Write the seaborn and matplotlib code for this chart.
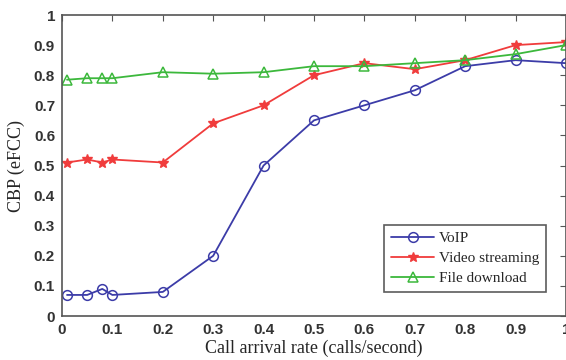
import numpy as np
import pandas as pd
import matplotlib
matplotlib.use('Agg')
import matplotlib.pyplot as plt
import seaborn as sns

# call arrival rate (calls/second)
rate = [0.01, 0.05, 0.08, 0.1, 0.2, 0.3, 0.4, 0.5, 0.6, 0.7, 0.8, 0.9, 1.0]
voip = [0.07, 0.07, 0.09, 0.07, 0.08, 0.20, 0.50, 0.65, 0.70, 0.75, 0.83, 0.85, 0.84]
video = [0.51, 0.52, 0.51, 0.52, 0.51, 0.64, 0.70, 0.80, 0.84, 0.82, 0.85, 0.90, 0.91]
download = [0.785, 0.79, 0.79, 0.79, 0.81, 0.805, 0.81, 0.83, 0.83, 0.84, 0.85, 0.87, 0.90]

names = ['VoIP', 'Video streaming', 'File download']
colors = ['#3c3ca8', '#f03c3c', '#3cb83c']

frames = []
for n, vals in zip(names, [voip, video, download]):
    frames.append(pd.DataFrame({'rate': rate, 'CBP': vals, 'Service': n}))
df = pd.concat(frames, ignore_index=True)

sns.set_style('white')
fig = plt.figure(figsize=(5.66, 3.6), dpi=100)
ax = fig.add_axes([0.1095, 0.1222, 0.8905, 0.8361])

styles = {
    'VoIP': dict(marker='o', markersize=7, markerfacecolor='none', markeredgewidth=1.1),
    'Video streaming': dict(marker='*', markersize=7, markeredgewidth=1.0),
    'File download': dict(marker='^', markersize=7, markerfacecolor='none', markeredgewidth=1.1),
}
for n, c in zip(names, colors):
    sns.lineplot(data=df[df['Service'] == n], x='rate', y='CBP', color=c, label=n,
                 linewidth=1.3, markeredgecolor=c, ax=ax, **styles[n])

ax.set_xlim(0, 1)
ax.set_ylim(0, 1)
ax.set_xticks(np.arange(0, 1.01, 0.1))
ax.set_yticks(np.arange(0, 1.01, 0.1))
ax.set_xticklabels(['0'] + ['%.1f' % v for v in np.arange(0.1, 0.95, 0.1)] + ['1'])
ax.set_yticklabels(['0'] + ['%.1f' % v for v in np.arange(0.1, 0.95, 0.1)] + ['1'])
for lab in ax.get_xticklabels() + ax.get_yticklabels():
    lab.set_fontweight('bold')
    lab.set_fontfamily('Liberation Sans')
    lab.set_fontsize(11)
    lab.set_color('#333333')
ax.tick_params(direction='in', length=4, top=True, right=True, color='#555555', pad=5)

for s in ax.spines.values():
    s.set_color('#555555')
    s.set_linewidth(1.2)

ax.set_xlabel('Call arrival rate (calls/second)', fontfamily='Liberation Serif', fontsize=13, labelpad=2)
ax.set_ylabel('CBP (eFCC)', fontfamily='Liberation Serif', fontsize=13, labelpad=6)

leg = ax.legend(loc='lower right', bbox_to_anchor=(0.96, 0.08), borderaxespad=0, frameon=True,
                fancybox=False, prop={'family': 'Liberation Serif', 'size': 11}, handlelength=2.8,
                borderpad=0.45, labelspacing=0.4, handletextpad=0.3)
leg.get_frame().set_edgecolor('#333333')
leg.get_frame().set_linewidth(1.2)

fig.savefig('out.png', dpi=100)
